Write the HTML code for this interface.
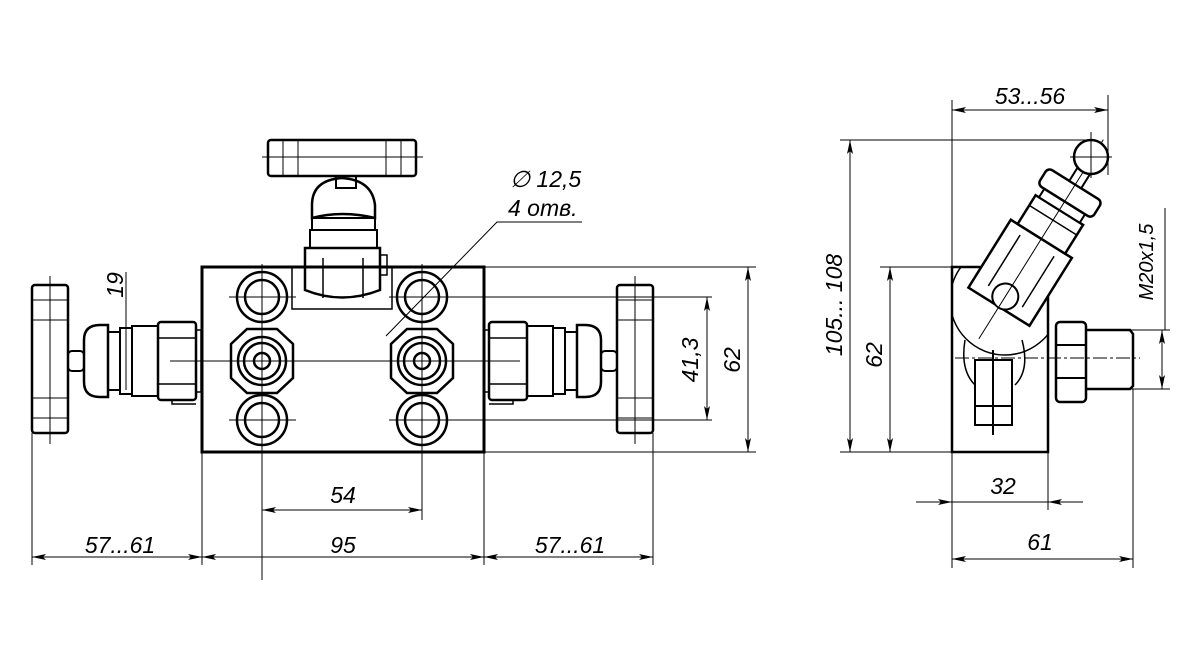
<!DOCTYPE html>
<html><head><meta charset="utf-8"><style>
html,body{margin:0;padding:0;background:#fff;}
svg{display:block;}
text{font-family:"Liberation Sans",sans-serif;font-style:italic;fill:#000;}
</style></head><body>
<svg width="1201" height="651" viewBox="0 0 1201 651" xmlns="http://www.w3.org/2000/svg">
<defs>
<marker id="a" viewBox="0 0 14 6" refX="14" refY="3" markerWidth="14" markerHeight="6" markerUnits="userSpaceOnUse" orient="auto-start-reverse"><path d="M0,0 L14,3 L0,6 L3,3 Z" fill="#000"/></marker>
<clipPath id="bc"><rect x="952" y="267" width="96" height="185"/></clipPath>
</defs>
<g fill="none" stroke="#000" stroke-width="1">
<!-- FRONT VIEW body -->
<rect x="202" y="267" width="282" height="185" stroke-width="3"/>
<path d="M292,267 V309 H392 V267" stroke-width="1.5"/>
<g stroke-width="2.5">
<circle cx="262" cy="297" r="25"/><circle cx="262" cy="297" r="17"/>
<circle cx="422" cy="297" r="25"/><circle cx="422" cy="297" r="17"/>
<circle cx="262" cy="420" r="25"/><circle cx="262" cy="420" r="17"/>
<circle cx="422" cy="420" r="25"/><circle cx="422" cy="420" r="17"/>
<polygon points="231,344 247,329 277,329 293,344 293,378 277,393 247,393 231,378"/>
<polygon points="391,344 407,329 437,329 453,344 453,378 437,393 407,393 391,378"/>
<circle cx="262" cy="361" r="24"/><circle cx="262" cy="361" r="18"/><circle cx="262" cy="361" r="8"/>
<circle cx="422" cy="361" r="24"/><circle cx="422" cy="361" r="18"/><circle cx="422" cy="361" r="8"/>
</g>
<path d="M229,297 H296 M262,264 V330 M389,297 H455 M422,264 V330 M229,420 H296 M262,387 V580 M389,420 H455 M422,387 V520 M170,361 H520 M262,330 V392 M422,330 V392"/>
<!-- top valve -->
<rect x="268" y="140" width="148" height="36" rx="3" stroke-width="2.5"/>
<path d="M283,140 V176 M298,140 V176 M386,140 V176 M401,140 V176 M262,157 H423" />
<path d="M336,176 V188 H356 V176" stroke-width="2"/>
<path d="M312,205 Q312,180 342,178 Q372,180 375,205 L375,218 Q342,210 312,218 Z" stroke-width="2.5"/>
<rect x="312" y="218" width="63" height="12" stroke-width="2"/>
<rect x="310" y="230" width="67" height="18" stroke-width="2"/>
<path d="M305,248 H380 V290 Q342,305 305,290 Z" stroke-width="2.5"/>
<path d="M323,258 V298 M363,258 V298 M380,255 H387 V275 H380" stroke-width="1.5"/>
<!-- left valve -->
<rect x="32" y="285" width="36" height="148" rx="3" stroke-width="2.5"/>
<path d="M32,300 H68 M32,320 H68 M32,398 H68 M32,418 H68 M50,276 V444"/>
<rect x="68" y="351" width="16" height="20" rx="4" stroke-width="2"/>
<path d="M84,340 Q84,325 100,325 H108 V397 H100 Q84,397 84,382 Z" stroke-width="2.5"/>
<rect x="108" y="332" width="12" height="58" stroke-width="2"/>
<rect x="120" y="328" width="12" height="66" stroke-width="2"/>
<rect x="132" y="326" width="26" height="70" stroke-width="2"/>
<rect x="158" y="322" width="38" height="78" rx="3" stroke-width="2.5"/>
<path d="M158,338 H196 M158,384 H196 M196,330 H201 V392 H196 M172,400 V404 H196" stroke-width="1.5"/>
<!-- right valve -->
<rect x="617" y="285" width="36" height="148" rx="3" stroke-width="2.5"/>
<path d="M617,300 H653 M617,320 H653 M617,398 H653 M617,418 H653 M635,276 V444"/>
<rect x="601" y="351" width="16" height="20" rx="4" stroke-width="2"/>
<path d="M601,340 Q601,325 585,325 H577 V397 H585 Q601,397 601,382 Z" stroke-width="2.5"/>
<rect x="565" y="332" width="12" height="58" stroke-width="2"/>
<rect x="553" y="328" width="12" height="66" stroke-width="2"/>
<rect x="527" y="326" width="26" height="70" stroke-width="2"/>
<rect x="489" y="322" width="38" height="78" rx="3" stroke-width="2.5"/>
<path d="M489,338 H527 M489,384 H527 M489,330 H484 V392 H489 M513,400 V404 H489" stroke-width="1.5"/>
<!-- front dims -->
<path d="M32,433 V565 M202,452 V565 M484,452 V565 M653,433 V565 M484,267 H756 M484,452 H756 M422,297 H712 M422,420 H712"/>
<line x1="32" y1="557" x2="202" y2="557" marker-start="url(#a)" marker-end="url(#a)"/>
<line x1="202" y1="557" x2="484" y2="557" marker-start="url(#a)" marker-end="url(#a)"/>
<line x1="484" y1="557" x2="653" y2="557" marker-start="url(#a)" marker-end="url(#a)"/>
<line x1="262" y1="510" x2="422" y2="510" marker-start="url(#a)" marker-end="url(#a)"/>
<line x1="707" y1="297" x2="707" y2="420" marker-start="url(#a)" marker-end="url(#a)"/>
<line x1="748" y1="267" x2="748" y2="452" marker-start="url(#a)" marker-end="url(#a)"/>
<path d="M126,272 V390"/>
<path d="M386,336 L497,222 H582"/>
<!-- SIDE VIEW -->
<rect x="952" y="267" width="96" height="185" stroke-width="2.5"/>
<g clip-path="url(#bc)">
<circle cx="1005" cy="300" r="55" stroke-width="1.5"/>
</g>
<path d="M975,360 H1012 V425 H975 Z M975,406 H1012 M993,350 V435" stroke-width="2"/>
<path d="M965,340 Q960,370 975,385 M1022,340 Q1030,370 1015,385" stroke-width="1.5"/>
<g transform="translate(1000,305) rotate(32)">
<rect x="-36" y="-78" width="72" height="80" fill="#fff" stroke-width="2.5"/>
<rect x="-28" y="-112" width="56" height="34" fill="#fff" stroke-width="2.5"/>
<path d="M-28,-100 H28 M-20,-70 V-10 M20,-70 V-10" stroke-width="1.5"/>
<rect x="-24" y="-122" width="48" height="10" fill="#fff" stroke-width="2"/>
<rect x="-32" y="-142" width="64" height="20" rx="5" fill="#fff" stroke-width="2.5"/>
<rect x="-7" y="-162" width="14" height="20" fill="#fff" stroke-width="2"/>
<circle cx="0" cy="-10" r="13" fill="#fff" stroke-width="2"/>
<path d="M0,-195 V40" stroke-width="1"/>
</g>
<circle cx="1091" cy="157" r="17" stroke-width="2.5" fill="#fff"/>
<path d="M1091,132 V178 M1070,157 H1112"/>
<rect x="1056" y="322" width="30" height="80" rx="4" stroke-width="2.5"/>
<path d="M1056,345 H1086 M1056,378 H1086" stroke-width="2"/>
<path d="M1086,330 H1130 L1133,334 V386 L1130,389 H1086" stroke-width="2.5"/>
<path d="M955,358 H1140" stroke-dasharray="14,3,3,3"/>
<!-- side dims -->
<path d="M952,100 V267 M1108,95 V175 M840,140 H1091 M840,452 H952 M880,267 H952 M952,452 V568 M1048,452 V510 M1133,389 V568 M1086,330 H1170 M1086,389 H1170 M1165,208 V330"/>
<line x1="952" y1="110" x2="1108" y2="110" marker-start="url(#a)" marker-end="url(#a)"/>
<line x1="850" y1="140" x2="850" y2="452" marker-start="url(#a)" marker-end="url(#a)"/>
<line x1="890" y1="267" x2="890" y2="452" marker-start="url(#a)" marker-end="url(#a)"/>
<line x1="1162" y1="330" x2="1162" y2="389" marker-start="url(#a)" marker-end="url(#a)"/>
<line x1="952" y1="559" x2="1133" y2="559" marker-start="url(#a)" marker-end="url(#a)"/>
<line x1="916" y1="502" x2="952" y2="502" marker-end="url(#a)"/>
<line x1="1083" y1="502" x2="1048" y2="502" marker-end="url(#a)"/>
<line x1="952" y1="502" x2="1048" y2="502"/>
</g>
<g font-size="23">
<text x="120" y="553" text-anchor="middle">57...61</text>
<text x="343" y="553" text-anchor="middle">95</text>
<text x="570" y="553" text-anchor="middle">57...61</text>
<text x="343" y="503" text-anchor="middle">54</text>
<text x="510" y="187">∅ 12,5</text>
<text x="508" y="216">4 отв.</text>
<text transform="translate(123,285) rotate(-90)" text-anchor="middle">19</text>
<text transform="translate(698,360) rotate(-90)" text-anchor="middle">41,3</text>
<text transform="translate(740,360) rotate(-90)" text-anchor="middle">62</text>
<text x="1030" y="104" text-anchor="middle">53...56</text>
<text transform="translate(842,305) rotate(-90)" text-anchor="middle">105... 108</text>
<text transform="translate(882,355) rotate(-90)" text-anchor="middle">62</text>
<text transform="translate(1153,262) rotate(-90)" text-anchor="middle" font-size="20">M20x1,5</text>
<text x="1003" y="494" text-anchor="middle">32</text>
<text x="1040" y="550" text-anchor="middle">61</text>
</g>
</svg>
</body></html>
